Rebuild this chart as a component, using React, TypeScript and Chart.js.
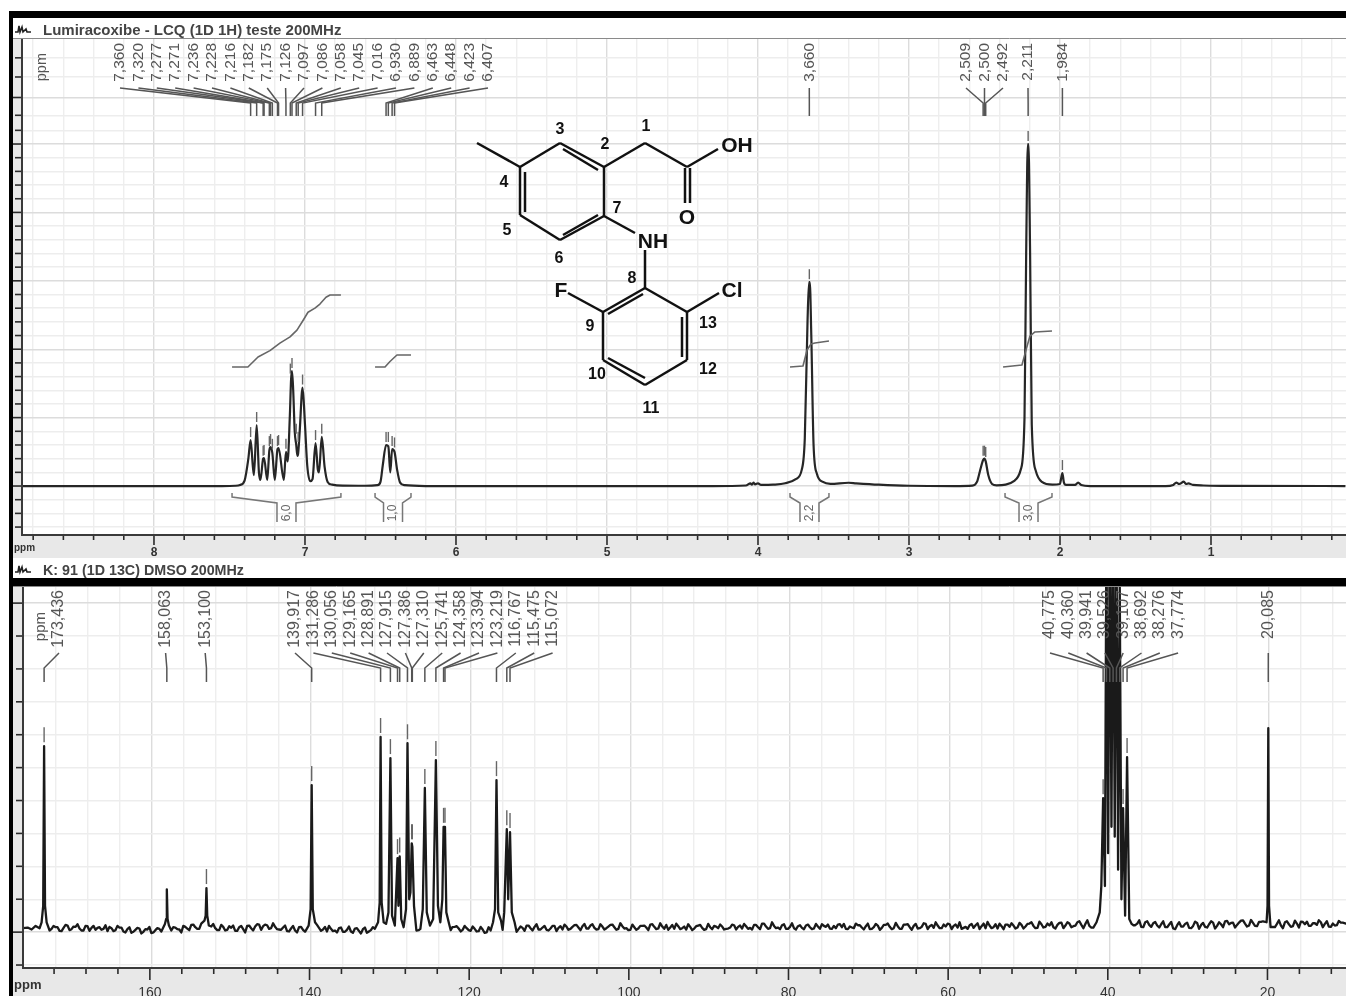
import React, { useEffect, useRef } from "react";
import { Chart, registerables } from "chart.js";

Chart.register(...registerables);

const h1Title = "Lumiracoxibe - LCQ (1D 1H) teste 200MHz";
const c13Title = "K: 91 (1D 13C) DMSO 200MHz";

const h1XTicks = [8.8,8.6,8.4,8.2,8,7.8,7.6,7.4,7.2,7,6.8,6.6,6.4,6.2,6,5.8,5.6,5.4,5.2,5,4.8,4.6,4.4,4.2,4,3.8,3.6,3.4,3.2,3,2.8,2.6,2.4,2.2,2,1.8,1.6,1.4,1.2,1,0.8,0.6,0.4,0.2];
const h1YTicks = [-30,-20,-10,0,10,20,30,40,50,60,70,80,90,100,110,120,130,140,150,160,170,180,190,200,210,220,230,240,250,260,271,284,299,313];
const h1YMajor = [0,50,100,150,200,250,284];
const c13XTicks = [172,168,164,160,156,152,148,144,140,136,132,128,124,120,116,112,108,104,100,96,92,88,84,80,76,72,68,64,60,56,52,48,44,40,36,32,28,24,20,16,12];
const c13YTicks = [-10,0,10,20,30,40,50,60,70,80,90,100];

const h1PeakPpm = [7.36,7.32,7.277,7.271,7.236,7.228,7.216,7.182,7.175,7.126,7.097,7.086,7.058,7.045,7.016,6.93,6.889,6.463,6.448,6.423,6.407,3.66,2.509,2.5,2.492,2.211,1.984];
const h1PeakHeight = [33.6,44.6,20,20.5,27,28.5,25,27,27.8,25,80,84,36,30,72,31.4,36,30,30,27,26,149,20,20,19,250,9.5];

const c13PeakPpm = [173.436,158.063,153.1,139.917,131.286,130.056,129.165,128.891,127.915,127.386,127.31,125.741,124.358,123.394,123.219,116.767,115.475,115.072,40.775,40.36,39.941,39.526,39.107,38.692,38.276,37.774,20.085];
const c13PeakHeight = [56.5,13,13.4,44.7,59.3,52.9,22.5,23,57.4,27,27,43.8,52.3,32,32,46.2,31.3,30.4,40.7,125,130,135,128,105,37.7,53.2,62];
const c13Unmarked = [158.063, 20.085];

const h1Trace = [[8.87,0],[8,0],[7.55,0],[7.46,0.2],[7.43,0.8],[7.4,4],[7.375,20],[7.36,33.6],[7.345,14],[7.338,8],[7.32,44.6],[7.305,10],[7.295,4.4],[7.277,20],[7.271,20.5],[7.25,4.4],[7.236,26],[7.228,28.5],[7.216,24],[7.2,4.4],[7.182,27],[7.175,27.8],[7.14,4.4],[7.126,25],[7.115,18],[7.1,52],[7.092,78],[7.086,84],[7.078,70],[7.068,40],[7.058,30],[7.05,22],[7.045,24],[7.035,40],[7.016,72],[7,45],[6.985,15],[6.965,3.5],[6.95,5],[6.93,31.4],[6.915,12],[6.907,10],[6.889,36],[6.87,14],[6.85,3],[6.82,1],[6.75,0.3],[6.6,0.2],[6.52,0.6],[6.5,3],[6.485,15],[6.463,30],[6.448,29],[6.435,10],[6.423,27],[6.407,25],[6.39,12],[6.37,2.5],[6.34,0.6],[6.2,0],[5,0],[4.3,0],[4.08,0.4],[4.05,2],[4.04,1],[4.03,2.5],[4.02,1.2],[4,2],[3.98,0.8],[3.9,1],[3.82,2],[3.75,5],[3.71,12],[3.69,35],[3.672,120],[3.662,149],[3.657,149],[3.647,110],[3.632,30],[3.61,9],[3.57,3],[3.52,1.6],[3.4,2.4],[3.35,2],[3.2,1],[3,0.2],[2.7,0],[2.58,0.3],[2.55,3],[2.53,11],[2.509,19],[2.5,20],[2.492,18],[2.475,8],[2.45,1.5],[2.42,0.5],[2.36,1],[2.3,4],[2.26,12],[2.235,50],[2.224,170],[2.213,250],[2.209,250],[2.198,170],[2.187,45],[2.16,11],[2.12,3],[2.05,1],[2,1.5],[1.995,4],[1.984,9.5],[1.975,3],[1.96,0.8],[1.9,0.8],[1.88,2.5],[1.86,0.8],[1.8,0],[1.3,0],[1.25,0.8],[1.23,2.5],[1.21,1.5],[1.18,3.2],[1.165,1.5],[1.15,2],[1.12,0.8],[1.05,0.4],[0.9,0.1],[0.11,0]];

const integralA = [[7.483,87],[7.378,87],[7.311,94.3],[7.232,99],[7.166,104.5],[7.099,109],[7.053,114],[7.013,121],[6.98,127],[6.934,130],[6.901,133],[6.861,138],[6.834,139.6],[6.762,139.6]];
const integralB = [[6.536,87],[6.47,87],[6.437,91],[6.391,95.8],[6.298,95.8]];
const integralC = [[3.788,87],[3.702,87.7],[3.675,99.4],[3.649,103.8],[3.623,104.5],[3.53,106]];
const integralD = [[2.377,87],[2.252,88.5],[2.225,99.4],[2.199,109.6],[2.166,112.6],[2.053,113.3]];
const integralValues = ["6,0", "1,0", "2,2", "3,0"];
const integralRanges = [[7.483,6.762],[6.536,6.298],[3.788,3.53],[2.364,2.053]];

const c13Noise = [
1.4,0.8,1.9,1.2,0.6,1.7,1.0,1.5,0.4,1.3,2.0,0.9,1.6,1.1,0.5,1.8,1.3,0.7,1.5,1.0,
0.3,1.2,0.6,1.4,0.2,0.9,-0.2,0.7,1.1,0.1,0.8,-0.3,0.6,1.0,0.2,1.3,0.5,1.4,0.8,1.9,
1.1,2.2,1.5,1.0,2.1,0.9,1.7,1.2,0.6,1.6,0.7,1.3,0.4,1.5,0.9,1.9,1.2,1.7,2.3,1.8,
2.1,1.2,1.6,0.8,1.4,0.3,1.1,0.5,1.5,0.7,1.8,1.1,0.4,1.3,0.8,0.2,1.0,0.5,1.2,0.1,
0.7,0.2,1.1,0.4,0.9,-0.2,0.6,1.0,0.3,0.8,0.1,0.9,1.3,0.5,1.2,0.7,1.4,1.0,0.6,1.1,
1.7,1.2,0.8,1.5,0.9,1.3,0.6,1.6,1.1,0.7,1.2,0.4,1.0,0.3,0.8,-0.1,0.5,0.9,0.2,0.7,
1.2,0.6,1.5,0.9,1.3,2.0,1.2,1.6,0.8,1.4,0.7,1.1,1.9,1.3,0.8,1.7,1.0,2.1,1.4,1.8,
1.1,2.0,1.3,0.9,1.7,1.2,2.2,1.5,1.0,1.8,1.2,0.7,1.5,1.1,1.9,1.4,2.3,1.6,1.1,1.7,
2.2,1.4,1.0,1.8,1.2,0.8,1.6,1.1,2.0,1.3,0.9,1.5,1.9,1.2,1.7,1.0,1.4,2.1,1.6,1.1,
1.8,1.3,2.2,1.5,2.6,1.7,1.2,1.9,1.4,2.1,1.0,1.6,1.2,1.8,1.3,2.0,1.5,1.1,1.7,2.4,
1.6,1.1,1.9,2.3,1.5,1.0,1.7,1.2,2.1,1.4,1.8,0.9,1.5,2.0,1.3,2.2,1.6,1.2,1.8,1.0,
2.3,1.5,1.9,1.1,1.6,2.5,1.8,1.3,2.0,1.2,1.7,2.4,1.9,1.4,1.0,1.6,2.1,1.3,2.7,1.8,
1.2,2.0,1.5,1.1,1.8,2.3,1.6,2.0,1.4,2.2,1.7,2.6,1.9,1.3,2.4,1.6,2.0,1.5,2.2,2.9,
2.0,2.6,1.8,3.0,2.2,2.5,1.9,1.4,2.7,2.0,3.1,2.3,1.7,2.4,3.3,2.5,2.9,2.1,2.6,1.6,
3.0,2.2,2.7,2.0,2.4,1.5,2.3,1.1,2.1,1.7,2.5,1.3,1.9,2.8,2.2,1.6,2.4,2.9,1.9,2.4,
3.3,2.4,2.9,2.2,3.5,2.6,2.0,2.8,1.8,3.1,2.3,2.7,1.6,2.5,2.0,3.0,2.4,1.8,2.6,3.2,
2.4,1.9,2.7,2.2,3.0,2.5,1.7,2.6,2.1,2.9,3.3
];
const c13NoiseBetween = [
0.6,2.1,0.5,1.9,1.5,0.3,2.2,0.6,1.7,2.4,0.5,1.9,0.4,1.9,1.3,0.7,2.1,1.6,0.3,1.9,
1.4,-0.1,1.5,0.1,1.3,-0.4,0.9,1.6,-0.1,1.2,0.2,1.1,-0.2,1.5,0.9,-0.1,1.6,0.6,2.3,1.0,
2.6,0.8,1.7,2.5,0.6,2.2,0.5,1.8,2.0,0.4,1.9,-0.1,2.0,0.5,2.4,0.7,2.3,1.0,2.7,0.9,
0.7,2.0,0.2,1.9,-0.1,1.6,0.1,1.9,0.2,2.2,0.4,1.6,1.9,0.3,-0.1,1.4,0.1,1.7,-0.2,1.2,
-0.4,1.4,0.2,1.5,-0.5,1.2,1.4,-0.1,1.2,-0.3,1.3,0.4,1.8,0.2,1.7,0.3,1.9,0.3,1.6,2.2,
0.6,1.7,2.0,0.6,1.8,0.2,1.9,0.6,1.7,0.2,1.6,-0.2,1.5,-0.3,1.2,0.6,-0.4,1.3,1.0,0.1,
1.7,0.4,2.0,0.5,2.4,0.8,1.9,0.5,1.9,0.3,1.8,2.3,0.7,1.6,2.2,0.6,2.5,1.1,2.4,0.8,
2.4,0.8,1.7,2.3,0.7,2.7,1.1,0.6,2.3,0.7,1.9,2.0,0.6,2.4,0.9,2.7,1.0,0.7,2.2,2.6,
0.9,1.7,2.4,0.6,1.8,2.2,0.7,2.5,0.9,1.7,2.3,0.8,1.1,2.3,0.8,2.0,2.5,1.0,0.8,2.2,
0.9,2.6,1.0,3.0,1.2,0.9,2.4,1.0,2.7,0.8,2.1,0.9,2.3,0.9,2.5,1.0,1.9,2.3,1.0,1.2,
2.4,2.5,0.9,1.4,2.6,2.1,0.8,2.6,1.0,2.5,0.7,2.2,2.6,0.9,2.8,1.0,2.3,2.4,0.7,2.5,
1.2,2.7,0.9,2.2,3.0,1.2,2.3,2.6,0.9,2.3,3.0,1.3,1.0,2.5,2.1,0.9,2.6,3.1,1.2,2.4,
2.6,0.9,2.3,2.7,1.1,2.8,1.1,2.5,3.0,1.2,3.2,1.4,2.6,3.0,1.1,2.8,1.2,3.0,1.5,2.0,
3.3,1.2,3.6,1.4,3.0,1.5,3.0,2.2,1.4,3.4,1.6,2.9,3.3,1.4,2.1,3.6,1.5,3.3,1.6,3.1,
1.4,3.3,1.5,3.1,0.9,3.0,1.7,2.9,1.2,3.2,1.0,2.8,1.4,3.3,1.1,3.0,1.5,3.4,2.8,1.4,
2.9,3.6,1.7,3.7,1.9,3.1,3.3,1.6,3.4,1.5,3.6,1.2,3.3,1.6,3.5,1.4,3.1,3.2,1.9,2.7,
3.6,1.5,3.3,1.6,2.0,3.4,2.9,1.5,3.4,1.8,2.4
];

const c13Detail = [[176.08,1.2],[173.75,3],[173.55,8],[173.436,56.5],[173.32,8],[173.12,3],[158.3,2.5],[158.15,4],[158.063,13],[157.97,4],[157.8,2],[153.35,3.5],[153.2,5],[153.1,13.4],[153,5],[152.8,2],[140.3,2],[140.05,7],[139.917,44.7],[139.78,7],[139.5,3],[131.6,3],[131.4,9],[131.286,59.3],[131.15,9],[130.9,3],[130.6,2.5],[130.3,6],[130.056,52.9],[129.85,5],[129.5,2],[129.165,22.5],[129.05,8],[128.891,23],[128.7,4],[128.4,1.5],[128.1,7],[127.915,57.4],[127.7,10],[127.55,12],[127.386,27],[127.31,26],[127.1,8],[126.8,0.5],[126.3,1],[126,7],[125.741,43.8],[125.5,6],[125.1,2],[124.7,4],[124.358,52.3],[124.1,8],[123.8,3],[123.55,10],[123.394,32],[123.219,32],[123.05,6],[122.7,2.5],[122.3,1.5],[117.2,3],[116.95,7],[116.767,46.2],[116.55,6],[116.2,3.5],[115.8,6],[115.475,31.3],[115.3,10],[115.072,30.4],[114.85,6],[114.5,3],[41.6,3],[41.2,6],[41,14],[40.775,40.7],[40.55,14],[40.36,125],[40.15,24],[39.941,130],[39.73,32],[39.526,135],[39.32,29],[39.107,128],[38.9,19],[38.692,105],[38.48,10],[38.276,37.7],[38.02,5],[37.774,53.2],[37.5,4],[37.2,2.5],[20.3,3],[20.18,8],[20.085,62],[19.99,8],[19.8,1.5],[10.35,2.6]];

const font = "'Liberation Sans', Arial, sans-serif";
const fmt = (v: number) => v.toFixed(3).replace(".", ",");
const pts = (rows: number[][]) => rows.map(([x, y]) => ({ x, y }));

const c13Trace = () => {
  const noise = [
    ...c13Noise.map((y, i) => [175.5 - i * 0.5, y]),
    ...c13NoiseBetween.map((y, i) => [173.75 - i * 0.5, y]),
  ].filter(([x]) => !c13Detail.some(([d]) => Math.abs(d - x) < 0.2));
  return [...noise, ...c13Detail].sort((a, b) => b[0] - a[0]);
};

const nmrPlugin = {
  id: "nmr",
  beforeDraw(chart: any) {
    const { ctx, chartArea: ca, width, height } = chart;
    ctx.save();
    ctx.fillStyle = "#fff";
    ctx.fillRect(0, 0, width, height);
    ctx.fillStyle = "#e8e8e8";
    ctx.fillRect(0, ca.bottom, width, height - ca.bottom);
    ctx.fillRect(0, ca.top, ca.left, ca.bottom - ca.top);
    ctx.restore();
  },
  afterDatasetsDraw(chart: any, _a: any, o: any) {
    const { ctx, chartArea: ca, scales } = chart;
    const xs = scales.x;
    const ys = scales.y;
    const ty = o.offsetY;
    ctx.save();
    ctx.strokeStyle = "#2a2a2a";
    ctx.lineWidth = 1.6;
    xs.ticks.forEach((t: any) => {
      const major = Math.abs(t.value / o.xMajor - Math.round(t.value / o.xMajor)) < 1e-6;
      const p = xs.getPixelForValue(t.value) + o.tickShift;
      ctx.beginPath();
      ctx.moveTo(p, ca.bottom);
      ctx.lineTo(p, ca.bottom + (major ? o.xMajorLen : o.xMinorLen));
      ctx.stroke();
    });
    ys.ticks.forEach((t: any) => {
      const major = o.yMajor.includes(t.value);
      const p = ys.getPixelForValue(t.value);
      ctx.beginPath();
      ctx.moveTo(ca.left, p);
      ctx.lineTo(ca.left - (major ? 10 : 7), p);
      ctx.stroke();
    });
    ctx.strokeStyle = "#3a3a3a";
    ctx.lineWidth = 2;
    ctx.beginPath();
    ctx.moveTo(ca.left, ca.top);
    ctx.lineTo(ca.left, ca.bottom);
    ctx.lineTo(ca.right, ca.bottom);
    ctx.stroke();
    ctx.strokeStyle = "#8a8a8a";
    ctx.lineWidth = 1;
    ctx.beginPath();
    ctx.moveTo(0, ca.top + 0.5);
    ctx.lineTo(ca.right, ca.top + 0.5);
    ctx.stroke();

    ctx.strokeStyle = "#666";
    ctx.lineWidth = 1.4;
    o.ppm.forEach((v: number, i: number) => {
      if (o.unmarked.includes(v)) return;
      const px = xs.getPixelForValue(v);
      const top = ys.getPixelForValue(o.height[i]);
      if (top - o.markGap - o.markLen < ca.top) return;
      ctx.beginPath();
      ctx.moveTo(px, top - o.markGap);
      ctx.lineTo(px, top - o.markGap - o.markLen);
      ctx.stroke();
    });

    let idx = 0;
    o.groups.forEach((g: any) => {
      for (let k = 0; k < g.count; k++, idx++) {
        const lx = g.start + k * (g.step || 0);
        const v = o.ppm[idx];
        const px = xs.getPixelForValue(v);
        ctx.strokeStyle = "#555";
        ctx.lineWidth = 1.5;
        ctx.beginPath();
        ctx.moveTo(lx, o.conn[0] - ty);
        ctx.lineTo(px, o.conn[1] - ty);
        ctx.lineTo(px, o.conn[2] - ty);
        ctx.stroke();
        ctx.save();
        ctx.translate(lx, o.labelTop - ty);
        ctx.rotate(-Math.PI / 2);
        ctx.font = `${o.labelSize}px ${font}`;
        ctx.fillStyle = "#555";
        ctx.textAlign = "right";
        ctx.textBaseline = "middle";
        ctx.fillText(fmt(v), 0, 0);
        ctx.restore();
      }
    });

    ctx.save();
    ctx.translate(o.ppmX, o.ppmTop - ty);
    ctx.rotate(-Math.PI / 2);
    ctx.font = `${o.labelSize - 1}px ${font}`;
    ctx.fillStyle = "#555";
    ctx.textAlign = "right";
    ctx.textBaseline = "middle";
    ctx.fillText("ppm", 0, 0);
    ctx.restore();

    ctx.font = `bold ${o.cornerSize}px ${font}`;
    ctx.fillStyle = "#333";
    ctx.textAlign = "left";
    ctx.textBaseline = "middle";
    ctx.fillText("ppm", 14, o.cornerY - ty);

    (o.ranges || []).forEach((r: number[], i: number) => {
      const l = xs.getPixelForValue(r[0]);
      const h = xs.getPixelForValue(r[1]);
      const c = (l + h) / 2;
      ctx.strokeStyle = "#777";
      ctx.lineWidth = 1.5;
      ctx.beginPath();
      ctx.moveTo(l, 493);
      ctx.lineTo(l, 497);
      ctx.lineTo(c - 9.5, 503);
      ctx.lineTo(c - 9.5, 522);
      ctx.moveTo(h, 493);
      ctx.lineTo(h, 497);
      ctx.lineTo(c + 9.5, 503);
      ctx.lineTo(c + 9.5, 522);
      ctx.stroke();
      ctx.save();
      ctx.translate(c, 513);
      ctx.rotate(-Math.PI / 2);
      ctx.font = `12px ${font}`;
      ctx.fillStyle = "#666";
      ctx.textAlign = "center";
      ctx.textBaseline = "middle";
      ctx.fillText(o.rangeLabels[i], 0, 0);
      ctx.restore();
    });
    ctx.restore();
  },
};

const makeChart = (canvas: HTMLCanvasElement, c: any) =>
  new Chart(canvas, {
    type: "line",
    data: { datasets: c.datasets },
    plugins: [nmrPlugin],
    options: {
      animation: false,
      responsive: false,
      devicePixelRatio: 1,
      layout: { padding: { top: c.top, left: 13, right: 0, bottom: 0 } },
      elements: { point: { radius: 0 } },
      plugins: {
        legend: { display: false },
        title: { display: false },
        tooltip: { enabled: false },
        nmr: c.plugin,
      } as any,
      scales: {
        x: {
          type: "linear",
          reverse: true,
          min: c.xMin,
          max: c.xMax,
          afterBuildTicks: (s: any) => {
            s.min = c.xMin;
            s.max = c.xMax;
            s.ticks = c.xTicks.map((value: number) => ({ value }));
          },
          afterFit: (s: any) => {
            s.height = c.bandH;
            s.paddingLeft = 0;
            s.paddingRight = 0;
          },
          border: { display: false },
          grid: {
            drawTicks: false,
            color: (x: any) =>
              Math.abs(x.tick.value / c.plugin.xMajor - Math.round(x.tick.value / c.plugin.xMajor)) < 1e-6
                ? "#dcdcdc"
                : "#eeeeee",
            lineWidth: 1.4,
          },
          ticks: {
            autoSkip: false,
            maxRotation: 0,
            minRotation: 0,
            padding: c.labelPad,
            labelOffset: c.plugin.tickShift,
            color: "#333",
            font: { family: font, size: c.tickSize, weight: c.tickWeight },
            callback: (v: any) => {
              const q = Number(v) / c.plugin.xMajor;
              return Math.abs(q - Math.round(q)) < 1e-6 ? String(Math.round(Number(v))) : "";
            },
          },
        },
        y: {
          type: "linear",
          min: c.yMin,
          max: c.yMax,
          afterBuildTicks: (s: any) => {
            s.min = c.yMin;
            s.max = c.yMax;
            s.ticks = c.yTicks.map((value: number) => ({ value }));
          },
          afterFit: (s: any) => {
            s.width = c.bandW;
          },
          border: { display: false },
          grid: {
            drawTicks: false,
            color: (x: any) => (c.plugin.yMajor.includes(x.tick.value) ? "#dcdcdc" : "#ededed"),
            lineWidth: 1.4,
          },
          ticks: { display: false },
        },
      },
    } as any,
  });

const abs = (l: number, t: number, w: number, h: number, bg: string): React.CSSProperties => ({
  position: "absolute",
  left: l,
  top: t,
  width: w,
  height: h,
  background: bg,
});

const bonds = [
  [477,143,520,167],[520,167,560,143],[560,143,604,167],[604,167,604,216],[604,216,560,240],[560,240,520,215],[520,215,520,167],
  [563,149,598,170],[525,172,525,212],[563,235,598,215],
  [604,167,645,143],[645,143,687,167],[687,167,718,149],[685,168,685,203],[690,168,690,203],
  [604,216,635,233],[645,250,645,288],
  [645,288,687,312],[687,312,687,360],[687,360,645,385],[645,385,603,360],[603,360,603,312],[603,312,645,288],
  [643,294,608,314],[682,317,682,357],[608,358,645,378],
  [603,312,568,293],[687,312,719,293],
];
const atoms: [string, number, number][] = [["OH",737,144],["O",687,216],["NH",653,240],["F",561,289],["Cl",732,289]];
const numbers: [string, number, number][] = [["1",646,125],["2",605,143],["3",560,128],["4",504,181],["5",507,229],["6",559,257],["7",617,207],["8",632,277],["9",590,325],["10",597,373],["11",651,407],["12",708,368],["13",708,322]];

export default function App() {
  const topRef = useRef<HTMLCanvasElement>(null);
  const botRef = useRef<HTMLCanvasElement>(null);

  useEffect(() => {
    const line = (rows: number[][], color: string, w: number, smooth: boolean) => ({
      data: pts(rows),
      borderColor: color,
      borderWidth: w,
      pointRadius: 0,
      fill: false,
      borderJoinStyle: "round",
      ...(smooth ? { cubicInterpolationMode: "monotone" } : { tension: 0 }),
    });
    const top = makeChart(topRef.current!, {
      top: 38,
      bandH: 23,
      bandW: 9,
      labelPad: 10,
      tickSize: 12,
      tickWeight: "bold",
      xMin: 0.106,
      xMax: 8.874,
      yMin: -35.8,
      yMax: 327.5,
      xTicks: h1XTicks,
      yTicks: h1YTicks,
      datasets: [
        line(integralA, "#666", 1.6, false),
        line(integralB, "#666", 1.6, false),
        line(integralC, "#666", 1.6, false),
        line(integralD, "#666", 1.6, false),
        line(h1Trace, "#262626", 2.2, true),
      ],
      plugin: {
        offsetY: 0,
        xMajor: 1,
        xMajorLen: 10,
        xMinorLen: 5,
        tickShift: 0,
        yMajor: h1YMajor,
        ppm: h1PeakPpm,
        height: h1PeakHeight,
        unmarked: [],
        markGap: 3,
        markLen: 10,
        groups: [
          { count: 21, start: 120, step: 18.4 },
          { count: 1, start: 809.3 },
          { count: 3, start: 966, step: 18.5 },
          { count: 1, start: 1028 },
          { count: 1, start: 1062.4 },
        ],
        conn: [88, 103, 116],
        labelTop: 43,
        labelSize: 15.5,
        ppmX: 42,
        ppmTop: 53,
        cornerSize: 10,
        cornerY: 548,
        ranges: integralRanges,
        rangeLabels: integralValues,
      },
    });
    const bot = makeChart(botRef.current!, {
      top: 28,
      bandH: 28,
      bandW: 10,
      labelPad: 17,
      tickSize: 14,
      tickWeight: "normal",
      xMin: 10.35,
      xMax: 176.08,
      yMin: -10.9,
      yMax: 105.2,
      xTicks: c13XTicks,
      yTicks: c13YTicks,
      datasets: [line(c13Trace(), "#1a1a1a", 2.3, false)],
      plugin: {
        offsetY: 558,
        xMajor: 20,
        xMajorLen: 12,
        xMinorLen: 6,
        tickShift: -1.5,
        yMajor: [0, 100],
        ppm: c13PeakPpm,
        height: c13PeakHeight,
        unmarked: c13Unmarked,
        markGap: 4,
        markLen: 15,
        groups: [
          { count: 1, start: 59 },
          { count: 1, start: 165.6 },
          { count: 1, start: 205.2 },
          { count: 15, start: 295, step: 18.4 },
          { count: 8, start: 1050, step: 18.3 },
          { count: 1, start: 1268.3 },
        ],
        conn: [653, 668, 682],
        labelTop: 590,
        labelSize: 16,
        ppmX: 41,
        ppmTop: 612,
        cornerSize: 13,
        cornerY: 985,
      },
    });
    return () => {
      top.destroy();
      bot.destroy();
    };
  }, []);

  const soft = "blur(0.45px)";
  return (
    <div style={{ position: "absolute", left: 0, top: 0, width: 1346, height: 996, overflow: "hidden", background: "#fff" }}>
      <canvas ref={topRef} width={1346} height={558} style={{ position: "absolute", left: 0, top: 0, filter: soft }} />
      <canvas ref={botRef} width={1346} height={438} style={{ position: "absolute", left: 0, top: 558, filter: soft }} />
      <div style={abs(0, 0, 1346, 11, "#fff")} />
      <div style={abs(0, 0, 9, 996, "#fff")} />
      <div style={abs(9, 11, 1337, 7, "#000")} />
      <div style={abs(9, 578, 1337, 8, "#000")} />
      <div style={abs(9, 11, 4, 985, "#000")} />
      <div style={abs(13, 18, 1333, 20, "#fff")} />
      <div style={abs(13, 558, 1333, 20, "#fff")} />
      <div style={{ position: "absolute", left: 43, top: 21, font: `bold 15px ${font}`, color: "#444", whiteSpace: "nowrap", filter: soft }}>{h1Title}</div>
      <div style={{ position: "absolute", left: 43, top: 562, font: `bold 14.3px ${font}`, color: "#444", whiteSpace: "nowrap", filter: soft }}>{c13Title}</div>
      <svg width={1346} height={996} style={{ position: "absolute", left: 0, top: 0, filter: soft }}>
        <path d="M15 32 L18 32 L19 26 L20 32 L22 27 L23 32 L26 29 L27 32 L31 32" fill="none" stroke="#222" strokeWidth={1.6} />
        <path d="M15 572 L18 572 L19 566 L20 572 L22 567 L23 572 L26 569 L27 572 L31 572" fill="none" stroke="#222" strokeWidth={1.6} />
        {bonds.map((b, i) => (
          <line key={i} x1={b[0]} y1={b[1]} x2={b[2]} y2={b[3]} stroke="#111" strokeWidth={2.5} />
        ))}
        {atoms.map(([t, x, y]) => (
          <text key={t} x={x} y={y} textAnchor="middle" dominantBaseline="central" fontFamily={font} fontWeight="bold" fontSize={21} fill="#111">{t}</text>
        ))}
        {numbers.map(([t, x, y]) => (
          <text key={t} x={x} y={y} textAnchor="middle" dominantBaseline="central" fontFamily={font} fontWeight="bold" fontSize={16} fill="#111">{t}</text>
        ))}
      </svg>
    </div>
  );
}
